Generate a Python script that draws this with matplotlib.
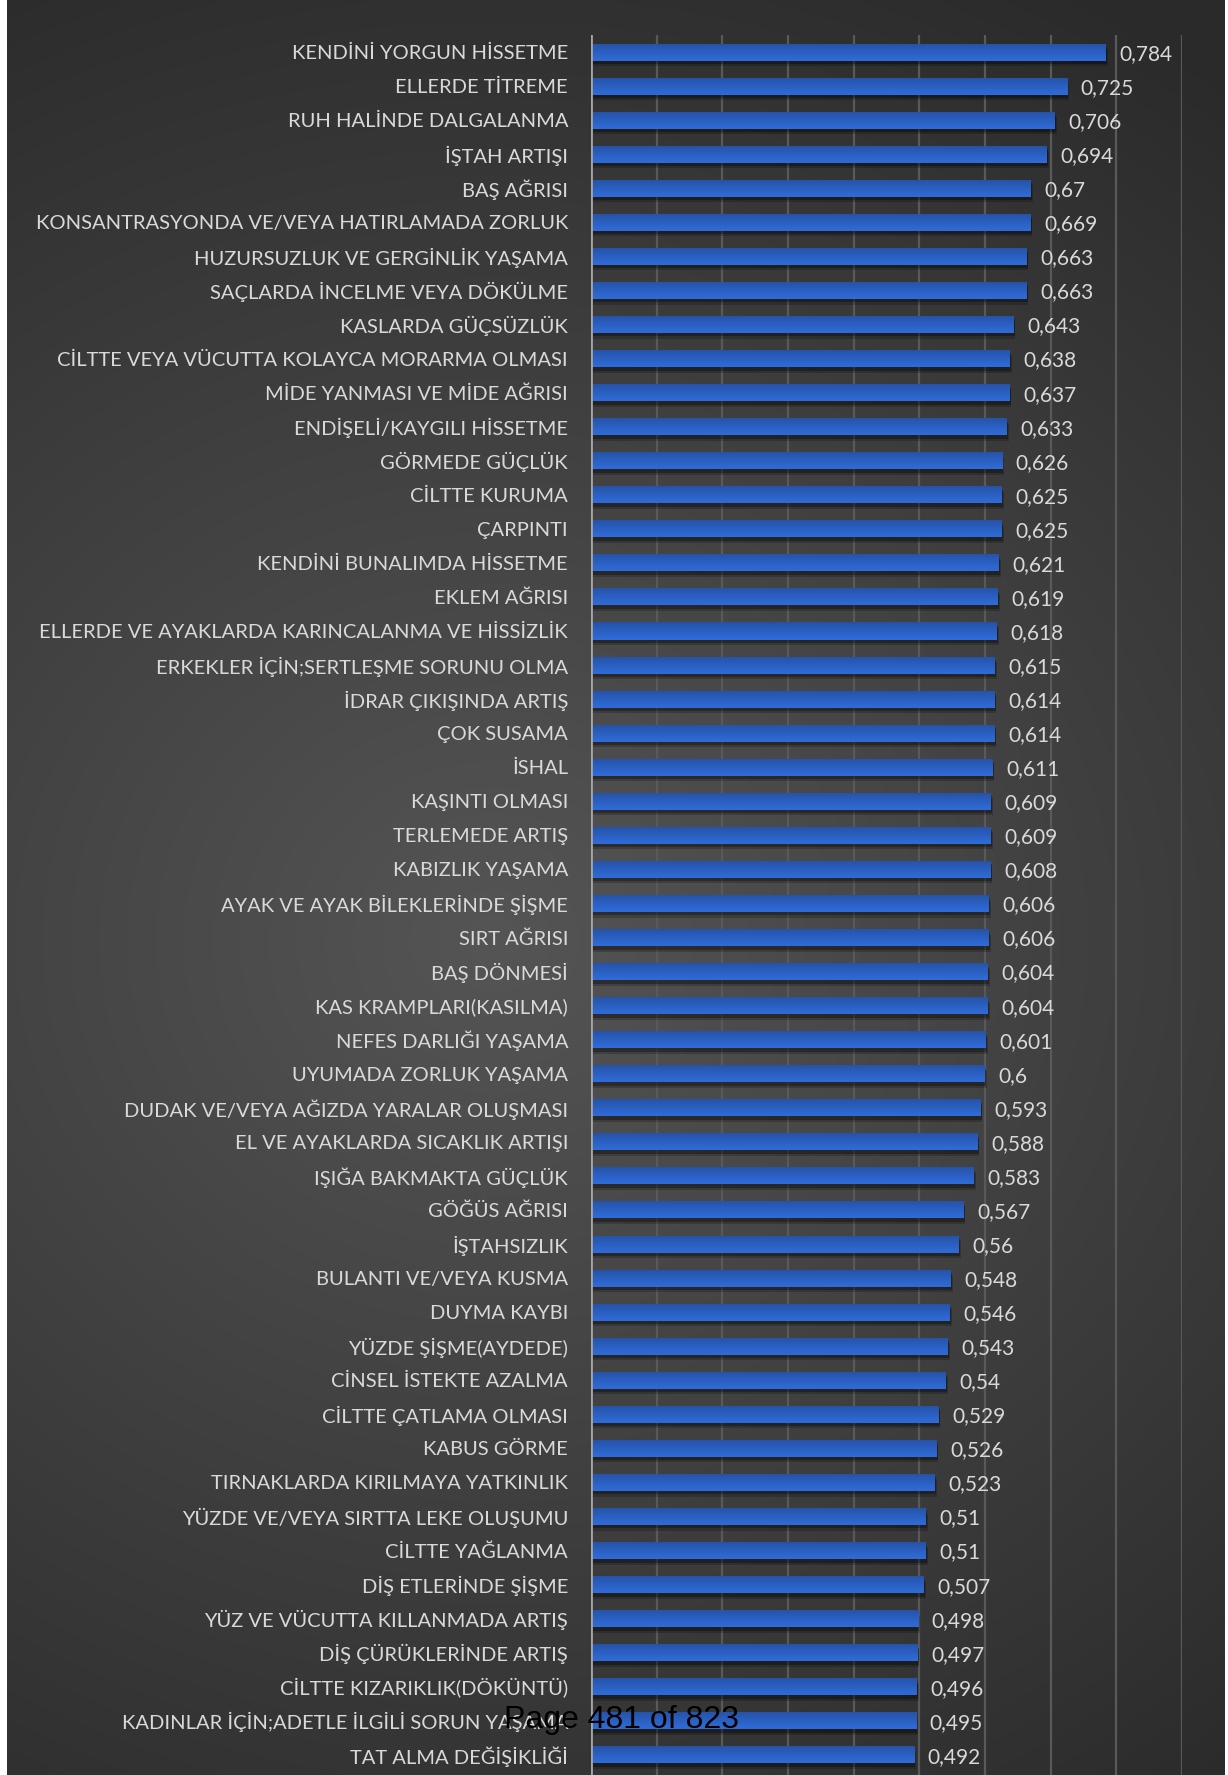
import matplotlib
matplotlib.use('Agg')
import matplotlib.pyplot as plt
import matplotlib.patheffects as pe
import numpy as np

symptoms = [
    'KENDİNİ YORGUN HİSSETME',
    'ELLERDE TİTREME',
    'RUH HALİNDE DALGALANMA',
    'İŞTAH ARTIŞI',
    'BAŞ AĞRISI',
    'KONSANTRASYONDA VE/VEYA HATIRLAMADA ZORLUK',
    'HUZURSUZLUK VE GERGİNLİK YAŞAMA',
    'SAÇLARDA İNCELME VEYA DÖKÜLME',
    'KASLARDA GÜÇSÜZLÜK',
    'CİLTTE VEYA VÜCUTTA KOLAYCA MORARMA OLMASI',
    'MİDE YANMASI VE MİDE AĞRISI',
    'ENDİŞELİ/KAYGILI HİSSETME',
    'GÖRMEDE GÜÇLÜK',
    'CİLTTE KURUMA',
    'ÇARPINTI',
    'KENDİNİ BUNALIMDA HİSSETME',
    'EKLEM AĞRISI',
    'ELLERDE VE AYAKLARDA KARINCALANMA VE HİSSİZLİK',
    'ERKEKLER İÇİN;SERTLEŞME SORUNU OLMA',
    'İDRAR ÇIKIŞINDA ARTIŞ',
    'ÇOK SUSAMA',
    'İSHAL',
    'KAŞINTI OLMASI',
    'TERLEMEDE ARTIŞ',
    'KABIZLIK YAŞAMA',
    'AYAK VE AYAK BİLEKLERİNDE ŞİŞME',
    'SIRT AĞRISI',
    'BAŞ DÖNMESİ',
    'KAS KRAMPLARI(KASILMA)',
    'NEFES DARLIĞI YAŞAMA',
    'UYUMADA ZORLUK YAŞAMA',
    'DUDAK VE/VEYA AĞIZDA YARALAR OLUŞMASI',
    'EL VE AYAKLARDA SICAKLIK ARTIŞI',
    'IŞIĞA BAKMAKTA GÜÇLÜK',
    'GÖĞÜS AĞRISI',
    'İŞTAHSIZLIK',
    'BULANTI VE/VEYA KUSMA',
    'DUYMA KAYBI',
    'YÜZDE ŞİŞME(AYDEDE)',
    'CİNSEL İSTEKTE AZALMA',
    'CİLTTE ÇATLAMA OLMASI',
    'KABUS GÖRME',
    'TIRNAKLARDA KIRILMAYA YATKINLIK',
    'YÜZDE VE/VEYA SIRTTA LEKE OLUŞUMU',
    'CİLTTE YAĞLANMA',
    'DİŞ ETLERİNDE ŞİŞME',
    'YÜZ VE VÜCUTTA KILLANMADA ARTIŞ',
    'DİŞ ÇÜRÜKLERİNDE ARTIŞ',
    'CİLTTE KIZARIKLIK(DÖKÜNTÜ)',
    'KADINLAR İÇİN;ADETLE İLGİLİ SORUN YAŞAMA',
    'TAT ALMA DEĞİŞİKLİĞİ',
]

scores = [
    0.784, 0.725, 0.706, 0.694, 0.67, 0.669, 0.663, 0.663, 0.643, 0.638,
    0.637, 0.633, 0.626, 0.625, 0.625, 0.621, 0.619, 0.618, 0.615, 0.614,
    0.614, 0.611, 0.609, 0.609, 0.608, 0.606, 0.606, 0.604, 0.604, 0.601,
    0.6, 0.593, 0.588, 0.583, 0.567, 0.56, 0.548, 0.546, 0.543, 0.54,
    0.529, 0.526, 0.523, 0.51, 0.51, 0.507, 0.498, 0.497, 0.496, 0.495,
    0.492,
]

grid_ticks = [0, 0.1, 0.2, 0.3, 0.4, 0.5, 0.6, 0.7, 0.8, 0.9]

W, H = 1228, 1775
fig = plt.figure(figsize=(W / 100, H / 100), dpi=100, facecolor='white')

# dark radial backdrop
bg = fig.add_axes([7 / W, 0, (1225 - 7) / W, 1])
gx, gy = np.meshgrid(np.linspace(0, 1, 300), np.linspace(0, 1, 400))
dist = np.sqrt(((gx - 0.40) / 1.0) ** 2 + ((gy - 0.53) / 0.62) ** 2)
dist = np.clip(dist, 0, 1)
light = np.array([0x55, 0x55, 0x55]) / 255
dark = np.array([0x2a, 0x2a, 0x2a]) / 255
img = light[None, None, :] * (1 - dist[..., None]) + dark[None, None, :] * dist[..., None]
bg.imshow(img, aspect='auto', extent=(0, 1, 0, 1), origin='upper', interpolation='bilinear')
bg.set_axis_off()

ax = fig.add_axes([591 / W, 0, (1182 - 591) / W, (H - 35) / H])
ax.set_facecolor('none')

n = len(scores)
ypos = np.arange(n)
bar_h = 0.5
shadow = [pe.SimplePatchShadow(offset=(1.5, -4), shadow_rgbFace='black', alpha=0.2),
          pe.SimplePatchShadow(offset=(1, -2.5), shadow_rgbFace='black', alpha=0.3),
          pe.Normal()]
bars = ax.barh(ypos, scores, height=bar_h, color='#2b60c2', zorder=3, path_effects=shadow)

# vertical shading on each bar
shade = np.linspace(0, 1, 32)[:, None]
top_c = np.array([0x25, 0x52, 0xa6]) / 255
bot_c = np.array([0x2f, 0x6c, 0xd9]) / 255
grad = top_c[None, None, :] * (1 - shade[..., None]) + bot_c[None, None, :] * shade[..., None]
for b, y, v in zip(bars, ypos, scores):
    im = ax.imshow(grad, extent=(0, v, y + bar_h / 2, y - bar_h / 2), origin='upper',
                   aspect='auto', interpolation='bilinear', zorder=4)
    im.set_clip_path(b)

value_labels = [str(v).replace('.', ',') for v in scores]
for y, v, lab in zip(ypos, scores, value_labels):
    ax.text(v + 0.021, y, lab, va='center_baseline', ha='left', color='#d9d9d9',
            fontsize=15, family='Lato', zorder=5)

ax.set_xlim(0, 0.9)
ax.set_ylim(50.59, -0.5)
ax.set_xticks(grid_ticks)
ax.set_xticklabels([])
ax.set_yticks(ypos)
ax.set_yticklabels(symptoms, color='#d9d9d9', fontsize=14.5, family='Lato',
                   va='center_baseline')
ax.tick_params(length=0, pad=16.5)
ax.grid(axis='x', color='#595959', lw=1.6, zorder=0)
ax.grid(axis='y', visible=False)
ax.set_axisbelow(True)
for s in ax.spines.values():
    s.set_visible(False)
ax.axvline(0, color='#a6a6a6', lw=2, zorder=6)

fig.text(622 / W, (H - 1720) / H, 'Page 481 of 823', ha='center', va='center',
         color='black', fontsize=23, family='Liberation Sans', zorder=10)

fig.savefig('out.png', dpi=100, facecolor='white')
